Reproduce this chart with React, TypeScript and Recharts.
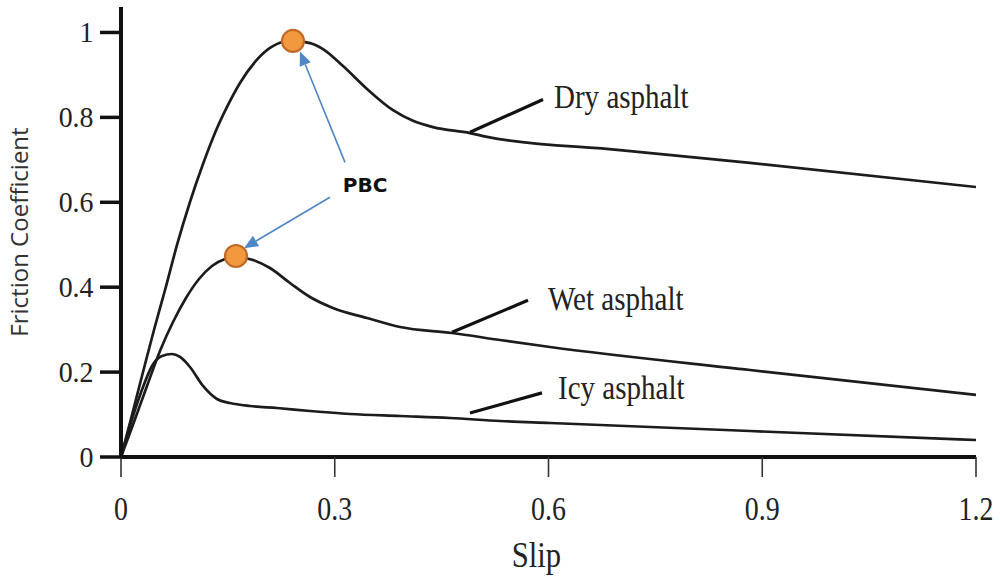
import React from "react";
import {
  LineChart,
  Line,
  XAxis,
  YAxis,
  ReferenceLine,
  ReferenceDot,
  Label,
} from "recharts";

const SERIF = '"Liberation Serif", "Times New Roman", serif';
const SANS = '"Open Sans", "DejaVu Sans", sans-serif';
const INK = "#1c1c1c";
const BLUE = "#4f86c6";

const xTicks = [0, 0.3, 0.6, 0.9, 1.2];
const yTicks = [0, 0.2, 0.4, 0.6, 0.8, 1];

const drySlip = [0, 0.0154, 0.0309, 0.0463, 0.0618, 0.0786, 0.0968, 0.1151, 0.1319, 0.1488, 0.167, 0.1881, 0.2091, 0.2274, 0.2414, 0.2653, 0.2835, 0.3116, 0.3453, 0.3818, 0.4098, 0.4379, 0.4898, 0.5137, 0.7004, 0.8828, 1.2];
const dryMu = [0, 0.0989, 0.2002, 0.2992, 0.3934, 0.4994, 0.6007, 0.6902, 0.7633, 0.8245, 0.881, 0.9305, 0.9635, 0.9776, 0.98, 0.975, 0.961, 0.921, 0.867, 0.817, 0.792, 0.777, 0.763, 0.754, 0.723, 0.693, 0.636];

const wetSlip = [0, 0.0182, 0.0365, 0.0547, 0.073, 0.0912, 0.1095, 0.1277, 0.146, 0.1614, 0.1853, 0.2091, 0.2372, 0.2653, 0.2975, 0.3453, 0.3916, 0.4646, 0.5319, 0.6021, 0.8828, 1.2];
const wetMu = [0, 0.0825, 0.1673, 0.2497, 0.318, 0.3746, 0.4193, 0.4499, 0.4664, 0.4711, 0.4641, 0.4452, 0.4099, 0.3769, 0.351, 0.3274, 0.3062, 0.2921, 0.2756, 0.2591, 0.2049, 0.1461];

const icySlip = [0, 0.0196, 0.0309, 0.0435, 0.0575, 0.0716, 0.0828, 0.0968, 0.1151, 0.1347, 0.153, 0.1811, 0.219, 0.2653, 0.3214, 0.3916, 0.4618, 0.5319, 0.6021, 0.8828, 1.2];
const icyMu = [0, 0.1107, 0.1649, 0.2144, 0.2379, 0.2426, 0.2356, 0.212, 0.1673, 0.1366, 0.1272, 0.1201, 0.1154, 0.1084, 0.1013, 0.0966, 0.0919, 0.0848, 0.0801, 0.0612, 0.04];

// peak points (PBC)
const peakSlip = [0.2414, 0.1614];
const peakMu = [0.98, 0.4735];

// curve name labels and their leader lines
const curveNames = ["Dry asphalt", "Wet asphalt", "Icy asphalt"];
const nameSlip = [0.6077, 0.5993, 0.6133];
const nameMu = [0.821, 0.346, 0.136];
const leaderFrom = [
  { x: 0.4898, y: 0.765 },
  { x: 0.4646, y: 0.294 },
  { x: 0.4898, y: 0.1035 },
];
const leaderTo = [
  { x: 0.5923, y: 0.842 },
  { x: 0.5712, y: 0.369 },
  { x: 0.5909, y: 0.151 },
];

// PBC callout
const pbcAt = { x: 0.3425, y: 0.6235 };
const arrowFrom = [
  { x: 0.3144, y: 0.694 },
  { x: 0.2933, y: 0.612 },
];
const arrowTo = [
  { x: 0.2512, y: 0.955 },
  { x: 0.1726, y: 0.492 },
];

const toPoints = (xs: number[], ys: number[]) =>
  xs.map((x, i) => ({ slip: x, mu: ys[i] }));

const dryData = toPoints(drySlip, dryMu);
const wetData = toPoints(wetSlip, wetMu);
const icyData = toPoints(icySlip, icyMu);

const fmt = (v: number) => String(v);

function XTick({ x, y, payload }: any) {
  return (
    <g transform={`translate(${x},${y})`}>
      <text
        transform="scale(0.82,1)"
        y={43}
        textAnchor="middle"
        fontFamily={SERIF}
        fontSize={34}
        fill="#222"
      >
        {fmt(payload.value)}
      </text>
    </g>
  );
}

function YTick({ x, y, payload }: any) {
  return (
    <g transform={`translate(${x},${y})`}>
      <text
        transform="scale(0.93,1)"
        x={-7}
        y={10}
        textAnchor="end"
        fontFamily={SERIF}
        fontSize={30}
        fill="#222"
      >
        {fmt(payload.value)}
      </text>
    </g>
  );
}

function Arrow({ x1, y1, x2, y2 }: any) {
  const a = Math.atan2(y2 - y1, x2 - x1);
  const L = 14;
  const W = 6;
  const bx = x2 - L * Math.cos(a);
  const by = y2 - L * Math.sin(a);
  const pts = `${x2},${y2} ${bx - W * Math.sin(a)},${by + W * Math.cos(a)} ${
    bx + W * Math.sin(a)
  },${by - W * Math.cos(a)}`;
  return (
    <g>
      <line x1={x1} y1={y1} x2={bx} y2={by} stroke={BLUE} strokeWidth={1.6} />
      <polygon points={pts} fill={BLUE} />
    </g>
  );
}

export default function App() {
  return (
    <div style={{ position: "absolute", left: 0, top: 0, background: "#fff" }}>
      <LineChart
        width={1000}
        height={583}
        margin={{ top: 7, right: 24, bottom: 0, left: 0 }}
      >
        <XAxis
          type="number"
          dataKey="slip"
          domain={[0, 1.2]}
          ticks={xTicks}
          height={126}
          allowDataOverflow
          axisLine={{ stroke: "#111", strokeWidth: 4 }}
          tickLine={{ stroke: "#333", strokeWidth: 1.6 }}
          tickSize={20}
          tickMargin={0}
          tick={<XTick />}
        >
          <Label
            content={({ viewBox }: any) => (
              <g
                transform={`translate(${viewBox.x + viewBox.width / 2 - 12},${
                  viewBox.y + 110
                })`}
              >
                <text
                  transform="scale(0.85,1)"
                  textAnchor="middle"
                  fontFamily={SERIF}
                  fontSize={36}
                  fill="#222"
                >
                  Slip
                </text>
              </g>
            )}
          />
        </XAxis>
        <YAxis
          type="number"
          domain={[0, 1.06]}
          ticks={yTicks}
          width={121}
          allowDataOverflow
          axisLine={{ stroke: "#111", strokeWidth: 4 }}
          tickLine={{ stroke: "#111", strokeWidth: 3.5 }}
          tickSize={21}
          tickMargin={0}
          tick={<YTick />}
        >
          <Label
            content={({ viewBox }: any) => (
              <text
                transform={`translate(28,${viewBox.y + viewBox.height / 2}) rotate(-90)`}
                textAnchor="middle"
                fontFamily={SANS}
                fontSize={24}
                fill="#333"
              >
                Friction Coefficient
              </text>
            )}
          />
        </YAxis>
        <YAxis
          yAxisId="r"
          orientation="right"
          width={0}
          tick={false}
          tickLine={false}
          axisLine={{ stroke: "#111", strokeWidth: 4 }}
        />

        <Line
          data={dryData}
          dataKey="mu"
          type="monotone"
          stroke={INK}
          strokeWidth={2.7}
          dot={false}
          isAnimationActive={false}
        />
        <Line
          data={wetData}
          dataKey="mu"
          type="monotone"
          stroke={INK}
          strokeWidth={2.7}
          dot={false}
          isAnimationActive={false}
        />
        <Line
          data={icyData}
          dataKey="mu"
          type="monotone"
          stroke={INK}
          strokeWidth={2.7}
          dot={false}
          isAnimationActive={false}
        />

        {leaderFrom.map((p, i) => (
          <ReferenceLine
            key={`lead-${i}`}
            segment={[p, leaderTo[i]]}
            stroke="#111"
            strokeWidth={3.2}
          />
        ))}

        {curveNames.map((name, i) => (
          <ReferenceDot
            key={`name-${i}`}
            x={nameSlip[i]}
            y={nameMu[i]}
            r={0}
            shape={(p: any) => (
              <g transform={`translate(${p.cx},${p.cy})`}>
                <text
                  transform="scale(0.88,1)"
                  fontFamily={SERIF}
                  fontSize={33}
                  fill="#222"
                >
                  {name}
                </text>
              </g>
            )}
          />
        ))}

        {arrowFrom.map((p, i) => (
          <ReferenceLine
            key={`arrow-${i}`}
            segment={[p, arrowTo[i]]}
            shape={<Arrow />}
          />
        ))}

        <ReferenceDot
          x={pbcAt.x}
          y={pbcAt.y}
          r={0}
          shape={(p: any) => (
            <text
              x={p.cx}
              y={p.cy}
              textAnchor="middle"
              fontFamily='"DejaVu Sans", sans-serif'
              fontWeight="bold"
              fontSize={20}
              fill="#111"
            >
              PBC
            </text>
          )}
        />

        {peakSlip.map((x, i) => (
          <ReferenceDot
            key={`peak-${i}`}
            x={x}
            y={peakMu[i]}
            r={11}
            fill="#f2983f"
            stroke="#c26a2a"
            strokeWidth={2.2}
          />
        ))}
      </LineChart>
    </div>
  );
}
